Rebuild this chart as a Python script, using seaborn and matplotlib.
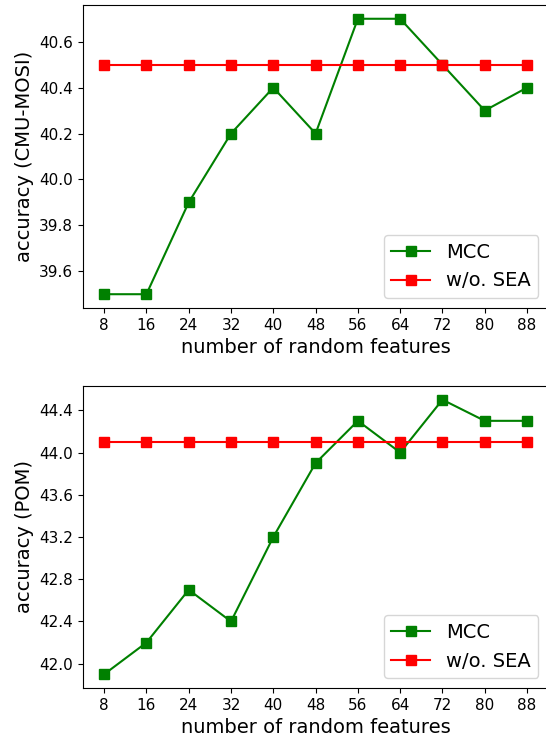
import matplotlib
matplotlib.use("Agg")
import matplotlib.pyplot as plt
import seaborn as sns
import pandas as pd
import numpy as np


features = [8, 16, 24, 32, 40, 48, 56, 64, 72, 80, 88]

mosi_mcc = [39.5, 39.5, 39.9, 40.2, 40.4, 40.2, 40.7, 40.7, 40.5, 40.3, 40.4]
mosi_base = [40.5] * 11

pom_mcc = [41.9, 42.2, 42.7, 42.4, 43.2, 43.9, 44.3, 44.0, 44.5, 44.3, 44.3]
pom_base = [44.1] * 11

mosi_ticks = [39.6, 39.8, 40.0, 40.2, 40.4, 40.6]
pom_ticks = [42.0, 42.4, 42.8, 43.2, 43.6, 44.0, 44.4]


def main():

    fig = plt.figure(figsize=(5.46, 7.45), dpi=100)

    ax1 = fig.add_axes([0.152, 0.5866, 0.852, 0.4067])
    ax2 = fig.add_axes([0.152, 0.0765, 0.852, 0.4054])

    draw_panel(ax1, mosi_mcc, mosi_base, mosi_ticks, "accuracy (CMU-MOSI)")
    draw_panel(ax2, pom_mcc, pom_base, pom_ticks, "accuracy (POM)")

    fig.savefig("out.png", dpi=100)


def draw_panel(ax, mcc, base, yticks, ylabel):

    df = pd.DataFrame({"features": features, "MCC": mcc, "w/o. SEA": base})

    for name, color in zip(["MCC", "w/o. SEA"], ["green", "red"]):
        sns.lineplot(data=df, x="features", y=name, ax=ax, color=color,
                     marker="s", markersize=6.5, markeredgecolor=color,
                     markeredgewidth=1, linewidth=1.5, label=name)

    ax.set_xticks(features)
    ax.set_yticks(yticks)
    ax.set_yticklabels(["{:.1f}".format(t) for t in yticks])
    ax.tick_params(labelsize=11)

    ax.set_xlabel("number of random features", fontsize=14)
    ax.set_ylabel(ylabel, fontsize=14)

    ax.legend(loc="lower right", fontsize=14)


if __name__ == "__main__":
    main()
